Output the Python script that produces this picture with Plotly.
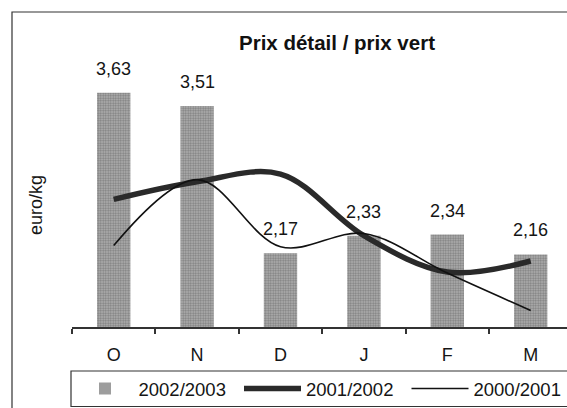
import plotly.graph_objects as go

months = ["O", "N", "D", "J", "F", "M"]
v_2002_2003 = [3.63, 3.51, 2.17, 2.33, 2.34, 2.16]
v_2001_2002 = [2.66, 2.82, 2.89, 2.33, 2.00, 2.10]
v_2000_2001 = [2.24, 2.84, 2.23, 2.35, 1.99, 1.65]
labels = [f"{v:.2f}".replace(".", ",") for v in v_2002_2003]

W, H = 567, 408
L, R, T, B = 72, 0, 52, 81
pw, ph = W - L - R, H - T - B

def px_x(px):
    return (px - L) / pw

def px_y(py):
    return (H - B - py) / ph

FONT = "Liberation Sans, Arial, sans-serif"
TXT = "#151515"

fig = go.Figure()
fig.add_trace(go.Bar(
    x=months, y=v_2002_2003, name="2002/2003", width=0.40,
    marker=dict(color="#8f8f8f", line=dict(width=0),
                pattern=dict(shape=".", size=2.5, solidity=0.5,
                             fgcolor="#4a4a4a", bgcolor="#b4b4b4")),
))
fig.add_trace(go.Scatter(
    x=months, y=v_2001_2002, name="2001/2002", mode="lines",
    line=dict(color="#2a2a2a", width=5.5, shape="spline", smoothing=1.0),
))
fig.add_trace(go.Scatter(
    x=months, y=v_2000_2001, name="2000/2001", mode="lines",
    line=dict(color="#111111", width=1.6, shape="spline", smoothing=1.0),
))

for m, v, t in zip(months, v_2002_2003, labels):
    fig.add_annotation(x=m, y=v, text=t, showarrow=False, xref="x", yref="y",
                       yanchor="bottom", yshift=12,
                       font=dict(family=FONT, size=18, color=TXT))

fig.add_annotation(text="euro/kg", textangle=-90, showarrow=False,
                   xref="paper", yref="paper", x=px_x(36), y=px_y(205),
                   xanchor="center", yanchor="middle",
                   font=dict(family=FONT, size=18, color=TXT))

fig.add_annotation(text="<b>Prix détail / prix vert</b>", showarrow=False,
                   xref="paper", yref="paper", x=px_x(337), y=px_y(42),
                   xanchor="center", yanchor="middle",
                   font=dict(family=FONT, size=20.5, color="#111"))

# outer frame and legend box
fig.add_shape(type="rect", xref="paper", yref="paper",
              x0=px_x(12), x1=px_x(640), y0=px_y(470), y1=px_y(12),
              line=dict(color="#333", width=1.2), layer="below")
fig.add_shape(type="rect", xref="paper", yref="paper",
              x0=px_x(71), x1=px_x(640), y0=px_y(406.5), y1=px_y(371),
              line=dict(color="#333", width=1.2))

fig.update_layout(
    width=W, height=H,
    margin=dict(l=L, r=R, t=T, b=B, autoexpand=False),
    paper_bgcolor="white", plot_bgcolor="white",
    font=dict(family=FONT, size=18, color=TXT),
    xaxis=dict(range=[-0.5, -0.5 + pw / 83.4], showgrid=False, zeroline=False,
               showline=True, linecolor="#333", linewidth=1.5,
               ticks="outside", tickson="boundaries", ticklen=5, tickcolor="#333",
               tickwidth=1.5, ticklabelstandoff=11,
               tickfont=dict(family=FONT, size=18, color=TXT)),
    yaxis=dict(range=[1.5, 4.0], showgrid=False, zeroline=False, showline=False,
               showticklabels=False, ticks=""),
    showlegend=True,
    legend=dict(orientation="h", x=px_x(71.5), y=px_y(389), xanchor="left",
                yanchor="middle", bgcolor="rgba(0,0,0,0)", borderwidth=0,
                itemwidth=57, entrywidth=95.5,
                font=dict(family=FONT, size=18.5, color=TXT),
                traceorder="normal"),
)

fig.write_html("out.html",
               config={"displayModeBar": False},
               post_script="document.body.style.margin='0';document.body.style.overflow='hidden';")
